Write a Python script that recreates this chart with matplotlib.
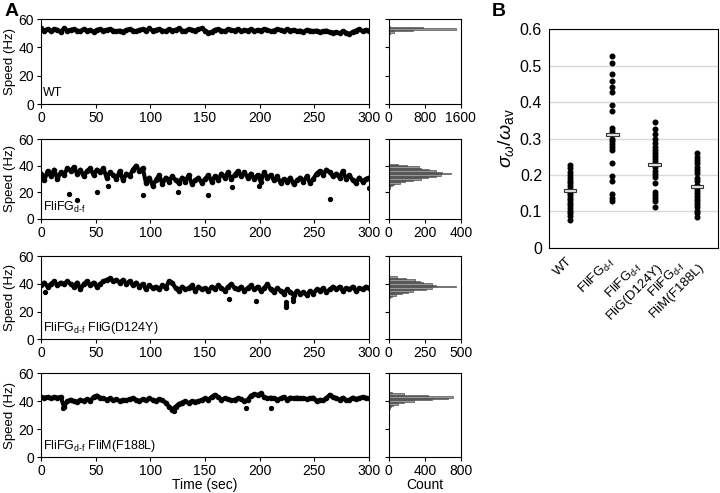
import numpy as np
import matplotlib
matplotlib.use('Agg')
import matplotlib.pyplot as plt

plt.rcParams['font.family'] = ['Liberation Sans', 'DejaVu Sans']
plt.rcParams['mathtext.fontset'] = 'custom'
plt.rcParams['mathtext.rm'] = 'Liberation Sans'
plt.rcParams['mathtext.it'] = 'Liberation Sans:italic'

# ---- panel A: speed traces (sampled every 3 s) ----
trace_time = np.arange(0, 301, 3)

wt_speed = [53.5, 52, 53, 51.5, 53, 52.5, 51, 53.5, 52, 52.5,
            53, 52, 51.5, 53, 52, 52.5, 51, 52.5, 53, 52,
            52.5, 53, 52, 51.5, 52, 51, 52.5, 53, 52, 51.5,
            52.5, 53, 52, 53.5, 52, 52.5, 53, 52, 51.5, 53,
            52, 52.5, 53.5, 52, 51.5, 53, 52.5, 52, 53, 53.5,
            52, 50.5, 51, 52.5, 53, 52, 51.5, 53, 52.5, 52,
            53, 51.5, 52.5, 52, 53, 51.5, 52.5, 52, 53, 52.5,
            51.5, 52, 53, 52.5, 51.5, 53, 52, 52.5, 51.5, 52,
            51, 52.5, 52, 51.5, 52, 51, 51.5, 52, 51, 50.5,
            51, 50, 51.5, 50.5, 49.5, 51, 52, 53, 51.5, 52.5, 52]

fg_speed = [34, 29, 36, 32, 37, 30, 35, 33, 38, 36,
            39, 34, 37, 32, 36, 38, 33, 37, 35, 38,
            31, 35, 33, 30, 36, 29, 34, 32, 37, 40,
            36, 38, 27, 31, 25, 29, 33, 26, 31, 28,
            32, 29, 27, 31, 28, 33, 26, 29, 31, 27,
            30, 33, 28, 32, 29, 34, 31, 35, 30, 33,
            36, 32, 35, 31, 34, 30, 33, 28, 35, 31,
            33, 29, 32, 27, 30, 28, 31, 26, 29, 31,
            28, 32, 27, 30, 34, 36, 33, 37, 35, 32,
            34, 31, 36, 30, 33, 29, 27, 31, 28, 30, 31]
fg_out_t = [26, 33, 51, 61, 93, 125, 153, 175, 199, 264, 300]
fg_out_v = [19, 14, 20, 25, 18, 20, 18, 24, 25, 15, 23]

g_speed = [39, 41, 38, 40, 42, 39, 41, 40, 42, 40,
           38, 41, 36, 40, 42, 39, 41, 38, 40, 42,
           43, 44, 42, 43, 41, 43, 40, 42, 39, 41,
           38, 40, 36, 39, 37, 38, 36, 39, 37, 42,
           41, 37, 35, 38, 36, 37, 39, 35, 38, 36,
           37, 35, 38, 36, 39, 37, 35, 38, 40, 37,
           36, 38, 35, 37, 39, 36, 38, 35, 37, 40,
           36, 34, 37, 35, 33, 36, 34, 32, 35, 33,
           34, 32, 35, 33, 36, 35, 37, 34, 36, 38,
           36, 38, 35, 37, 36, 38, 35, 37, 36, 38, 37]
g_out_t = [4, 172, 197, 224, 224, 224, 230, 230]
g_out_v = [34, 29, 28, 23, 25, 27, 28, 30]

m_speed = [43, 42.5, 43, 42, 43, 42.5, 43, 36, 40, 41,
           40, 39.5, 41, 40, 41.5, 40, 43, 44, 42.5, 42,
           41, 42, 40.5, 41.5, 40, 41, 40.5, 41.5, 42, 41,
           40, 41.5, 40.5, 42, 41, 40, 41.5, 40.5, 39, 36,
           34, 36, 38, 39, 40, 38.5, 40, 39.5, 40, 41,
           42, 41, 43, 44.5, 43, 41, 42, 41.5, 40.5, 41,
           42, 41.5, 40, 41, 44, 45, 44.5, 45.5, 43, 42,
           42.5, 42, 41, 42, 43, 41, 42.5, 42, 42.5, 42,
           42, 41.5, 42, 42.5, 40, 41, 40.5, 42, 44.5, 43,
           42, 41, 42.5, 40.5, 41, 42.5, 41.5, 42, 43, 42.5, 42]
m_out_t = [20, 122, 187, 210]
m_out_v = [35, 33, 35, 35]

# ---- panel A: speed histograms (1 Hz bins) ----
wt_bins = [49, 50, 51, 52, 53, 54, 55]
wt_counts = [10, 30, 110, 540, 1500, 750, 20]
fg_bins = [23, 24, 25, 26, 27, 28, 29, 30, 31, 32, 33, 34, 35, 36, 37, 38, 39, 40, 41]
fg_counts = [4, 8, 15, 30, 60, 90, 135, 180, 220, 260, 290, 345, 295, 260, 225, 180, 170, 100, 50]
g_bins = [30, 31, 32, 33, 34, 35, 36, 37, 38, 39, 40, 41, 42, 43, 44, 45]
g_counts = [10, 25, 50, 90, 130, 170, 260, 300, 470, 330, 300, 240, 220, 180, 120, 60]
m_bins = [34, 35, 36, 37, 38, 39, 40, 41, 42, 43, 44, 45, 46]
m_counts = [5, 10, 25, 50, 100, 170, 280, 480, 660, 710, 430, 170, 30]

labels_a = ['WT', 'FliFG$_{\\mathregular{d\\text{-}f}}$',
            'FliFG$_{\\mathregular{d\\text{-}f}}$ FliG(D124Y)',
            'FliFG$_{\\mathregular{d\\text{-}f}}$ FliM(F188L)']
hist_xmax = [1600, 400, 500, 800]

# ---- panel B ----
strains = ['WT', 'FliFG$_{\\mathregular{d\\text{-}f}}$',
           'FliFG$_{\\mathregular{d\\text{-}f}}$\nFliG(D124Y)',
           'FliFG$_{\\mathregular{d\\text{-}f}}$\nFliM(F188L)']
ratio_wt = [0.227, 0.218, 0.209, 0.200, 0.192, 0.184, 0.177, 0.170, 0.162, 0.152,
            0.145, 0.138, 0.131, 0.124, 0.117, 0.110, 0.102, 0.095, 0.088, 0.078]
ratio_fg = [0.525, 0.508, 0.476, 0.458, 0.442, 0.428, 0.392, 0.376, 0.330, 0.321,
            0.300, 0.294, 0.285, 0.277, 0.268, 0.234, 0.197, 0.183, 0.148, 0.138, 0.129]
ratio_g = [0.344, 0.326, 0.312, 0.298, 0.288, 0.278, 0.269, 0.260, 0.253, 0.244,
           0.236, 0.221, 0.212, 0.203, 0.194, 0.177, 0.153, 0.145, 0.137, 0.130, 0.111]
ratio_m = [0.259, 0.250, 0.241, 0.232, 0.223, 0.214, 0.205, 0.191, 0.184, 0.174,
           0.159, 0.150, 0.142, 0.135, 0.128, 0.121, 0.111, 0.102, 0.095, 0.086]
ratio_mean = [0.158, 0.310, 0.228, 0.168]

fig = plt.figure(figsize=(7.2, 4.93), dpi=100)

rows = [(0.789, 0.172), (0.556, 0.162), (0.312, 0.168), (0.073, 0.170)]
traces = [(wt_speed, [], []), (fg_speed, fg_out_t, fg_out_v),
          (g_speed, g_out_t, g_out_v), (m_speed, m_out_t, m_out_v)]
hists = [(wt_bins, wt_counts), (fg_bins, fg_counts),
         (g_bins, g_counts), (m_bins, m_counts)]

for i, (bottom, height) in enumerate(rows):
    ax = fig.add_axes([0.057, bottom, 0.4556, height])
    speed, ot, ov = traces[i]
    ax.plot(trace_time, speed, '-', color='black', lw=3.0)
    ax.plot(trace_time, speed, 'o', color='black', ms=3.0)
    if ot:
        ax.plot(ot, ov, 'o', color='black', ms=2.8)
    ax.set_xlim(0, 300)
    ax.set_ylim(0, 60)
    ax.set_xticks(range(0, 301, 50))
    ax.set_yticks([0, 20, 40, 60])
    ax.tick_params(labelsize=10, length=3, width=0.8, pad=2)
    ax.set_ylabel('Speed (Hz)', fontsize=9.5, labelpad=2)
    ax.text(0.006, 0.1, labels_a[i], transform=ax.transAxes, fontsize=9)
    if i == 3:
        ax.set_xlabel('Time (sec)', fontsize=10, labelpad=0)

    hx = fig.add_axes([0.540, bottom, 0.100, height])
    bins, counts = hists[i]
    hx.barh(bins, counts, height=1.0, color='#999999', edgecolor='#333333', lw=0.4)
    hx.set_ylim(0, 60)
    hx.set_xlim(0, hist_xmax[i])
    hx.set_xticks([0, hist_xmax[i] / 2, hist_xmax[i]])
    hx.set_xticklabels(['0', str(hist_xmax[i] // 2), str(hist_xmax[i])])
    hx.set_yticks([0, 20, 40, 60])
    hx.set_yticklabels([])
    hx.tick_params(labelsize=10, length=3, width=0.8, pad=2)
    if i == 3:
        hx.set_xlabel('Count', fontsize=10, labelpad=0)

fig.text(0.006, 0.968, 'A', fontsize=14, fontweight='bold')

bx = fig.add_axes([0.7625, 0.497, 0.2347, 0.444])
for k, vals in enumerate([ratio_wt, ratio_fg, ratio_g, ratio_m]):
    bx.scatter([k] * len(vals), vals, s=11, color='black', zorder=3)
bx.bar(range(4), [0.008] * 4, bottom=np.array(ratio_mean) - 0.004, width=0.3,
       color='#e6e6e6', edgecolor='#333333', lw=0.8, zorder=4)
bx.set_xlim(-0.5, 3.5)
bx.set_ylim(0, 0.6)
bx.set_yticks([0, 0.1, 0.2, 0.3, 0.4, 0.5, 0.6])
bx.set_yticklabels(['0', '0.1', '0.2', '0.3', '0.4', '0.5', '0.6'])
bx.yaxis.grid(True, color='#d9d9d9', lw=1)
bx.set_axisbelow(True)
bx.set_xticks(range(4))
bx.set_xticklabels(strains, rotation=45, ha='right', va='center',
                   rotation_mode='anchor', multialignment='center', fontsize=9.5)
bx.tick_params(axis='y', labelsize=11.5, length=0, pad=5)
bx.tick_params(axis='x', length=0, pad=8)
bx.set_ylabel('$\\sigma_{\\omega}/\\omega_{\\mathregular{av}}$', fontsize=14, labelpad=3)
fig.text(0.683, 0.968, 'B', fontsize=14, fontweight='bold')

fig.savefig('out.png', dpi=100)
